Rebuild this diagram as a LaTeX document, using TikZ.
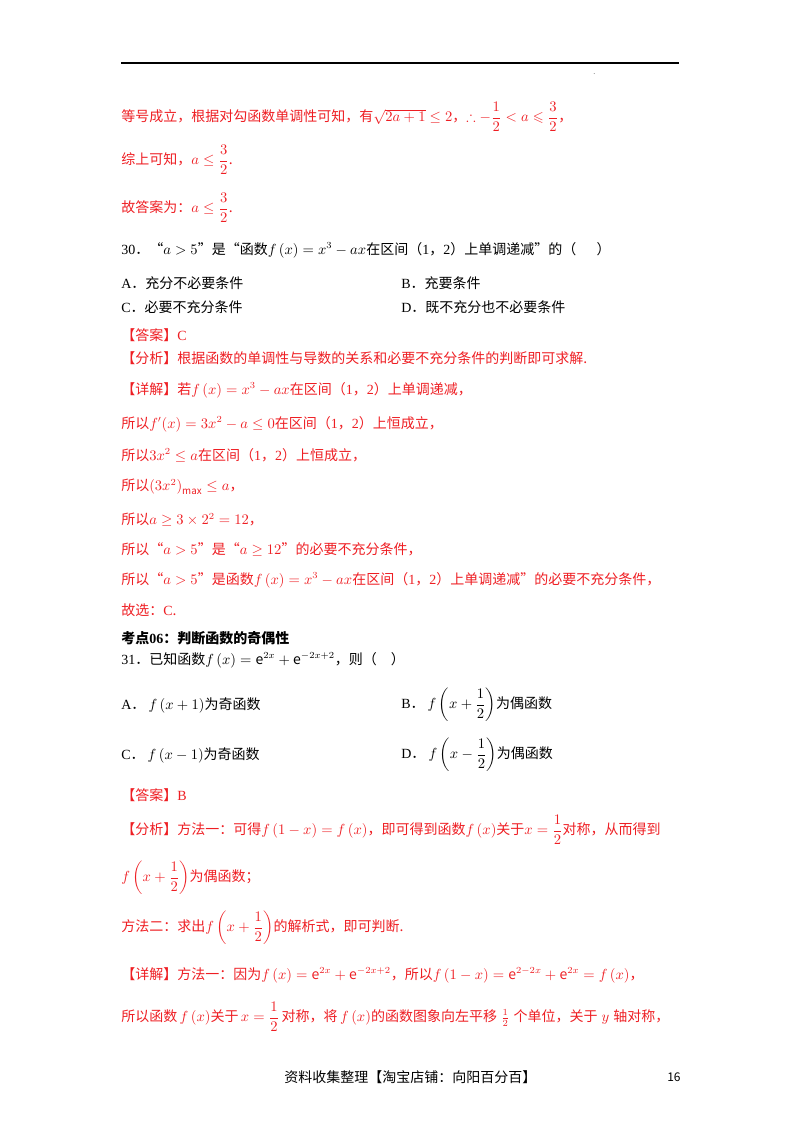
\documentclass[tikz,border=0pt]{standalone}
\usepackage{amsmath,amssymb}
\usepackage{fontspec}
\setmainfont{Noto Sans CJK SC}
\newfontfamily\lat{Liberation Serif}
\definecolor{rd}{RGB}{238,30,35}
\begin{document}
\begin{tikzpicture}[x=0.75pt,y=-0.75pt,
 t/.style={anchor=west,inner sep=0pt,font=\fontsize{10.5}{12}\selectfont},
 r/.style={t,text=rd}]
\useasboundingbox (0,0) rectangle (800,1132);
\draw[line width=0.8pt] (121,63) coordinate (l1) -- (679,63) coordinate (l2);
\node[t,font=\tiny] (dot) at (593,74) {.};
\node[r] (n1) at (121,117) {等号成立，根据对勾函数单调性可知，有$\sqrt{2a+1}\le 2$，$\therefore -\dfrac12<a\leqslant\dfrac32$，};
\node[r] (n2) at (121,160) {综上可知，$a\le\dfrac32$.};
\node[r] (n3) at (121,208) {故答案为：$a\le\dfrac32$.};
\node[t] (q30) at (121,250) {{\lat 30}．“$a>5$”是“函数$f\left(x\right)=x^3-ax$在区间（{\lat 1}，{\lat 2}）上单调递减”的（\quad\ \ ）};
\node[t] (oa) at (121,283) {{\lat A}．充分不必要条件};
\node[t] (ob) at (401,283) {{\lat B}．充要条件};
\node[t] (oc) at (121,307) {{\lat C}．必要不充分条件};
\node[t] (od) at (401,307) {{\lat D}．既不充分也不必要条件};
\node[r] (a1) at (121,335) {【答案】{\lat C}};
\node[r] (a2) at (121,358) {【分析】根据函数的单调性与导数的关系和必要不充分条件的判断即可求解.};
\node[r] (a3) at (121,390) {【详解】若$f\left(x\right)=x^3-ax$在区间（{\lat 1}，{\lat 2}）上单调递减，};
\node[r] (a4) at (121,424) {所以$f'(x)=3x^2-a\le 0$在区间（{\lat 1}，{\lat 2}）上恒成立，};
\node[r] (a5) at (121,455) {所以$3x^2\le a$在区间（{\lat 1}，{\lat 2}）上恒成立，};
\node[r] (a6) at (121,487) {所以$\left(3x^2\right)_{\max}\le a$，};
\node[r] (a7) at (121,520) {所以$a\ge 3\times2^2=12$，};
\node[r] (a8) at (121,550) {所以“$a>5$”是“$a\ge12$”的必要不充分条件，};
\node[r] (a9) at (121,580) {所以“$a>5$”是函数$f\left(x\right)=x^3-ax$在区间（{\lat 1}，{\lat 2}）上单调递减”的必要不充分条件，};
\node[r] (a10) at (121,610) {故选：{\lat C}.};
\node[t,font=\fontsize{10.5}{12}\bfseries\selectfont] (kd) at (121,638) {考点{\lat\bfseries 06}：判断函数的奇偶性};
\node[t] (q31) at (121,660) {{\lat 31}．已知函数$f\left(x\right)=\mathrm{e}^{2x}+\mathrm{e}^{-2x+2}$，则（\quad ）};
\node[t] (pa) at (121,705) {{\lat A}．\ $f\left(x+1\right)$为奇函数};
\node[t] (pb) at (401,705) {{\lat B}．\ $f\left(x+\dfrac12\right)$为偶函数};
\node[t] (pc) at (121,755) {{\lat C}．\ $f\left(x-1\right)$为奇函数};
\node[t] (pd) at (401,755) {{\lat D}．\ $f\left(x-\dfrac12\right)$为偶函数};
\node[r] (b1) at (121,795) {【答案】{\lat B}};
\node[r] (b2) at (121,830) {【分析】方法一：可得$f\left(1-x\right)=f\left(x\right)$，即可得到函数$f\left(x\right)$关于$x=\dfrac12$对称，从而得到};
\node[r] (b3) at (121,878) {$f\left(x+\dfrac12\right)$为偶函数；};
\node[r] (b4) at (121,928) {方法二：求出$f\left(x+\dfrac12\right)$的解析式，即可判断.};
\node[r] (b5) at (121,975) {【详解】方法一：因为$f\left(x\right)=\mathrm{e}^{2x}+\mathrm{e}^{-2x+2}$，所以$f\left(1-x\right)=\mathrm{e}^{2-2x}+\mathrm{e}^{2x}=f\left(x\right)$，};
\node[r] (b6) at (121,1017) {所以函数$\,f\left(x\right)$关于$\,x=\dfrac12\,$对称，将$\,f\left(x\right)$的函数图象向左平移$\;\tfrac12\;$个单位，关于$\;y\;$轴对称，};
\node[t] (ft) at (284,1077) {资料收集整理【淘宝店铺：向阳百分百】};
\node[t,font=\fontsize{9}{10}\selectfont] (pg) at (667,1077) {16};
\end{tikzpicture}
\end{document}
